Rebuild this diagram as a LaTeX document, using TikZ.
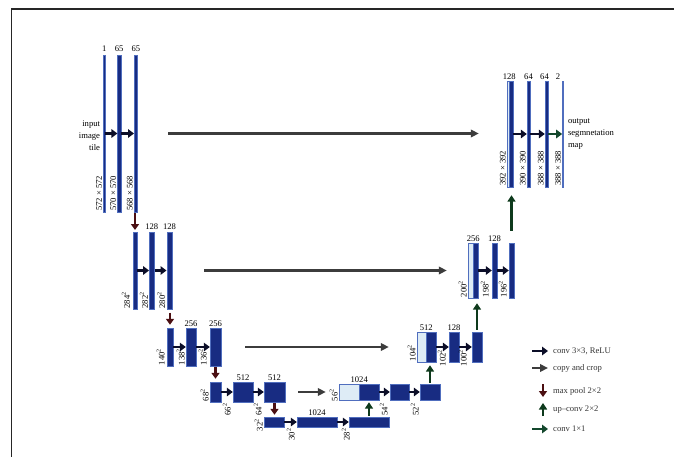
\documentclass[tikz,border=0pt]{standalone}
\usepackage{fontspec}
\setmainfont{Liberation Serif}
\usetikzlibrary{arrows.meta}
\definecolor{mapblue}{RGB}{24,44,130}
\definecolor{mapedge}{RGB}{80,110,190}
\definecolor{maplight}{RGB}{222,236,246}
\definecolor{convcol}{RGB}{12,14,40}
\definecolor{copycol}{RGB}{60,60,60}
\definecolor{poolcol}{RGB}{75,15,18}
\definecolor{upcol}{RGB}{14,58,28}
\definecolor{onecol}{RGB}{20,72,45}

\begin{document}
\begin{tikzpicture}[x=1pt, y=-1pt, font=\fontsize{8.6}{10}\selectfont,
    fmap/.style 2 args = {draw=mapedge, fill=mapblue, line width=.4pt, inner sep=0pt,
                          minimum width=#1pt, minimum height=#2pt},
    lmap/.style 2 args = {fmap={#1}{#2}, fill=maplight},
    num/.style = {above, inner sep=1.5pt},
    dimside/.style = {rotate=90, anchor=south west, inner sep=1pt},
    dimlow/.style = {rotate=90, anchor=east, inner sep=1pt},
    txt/.style = {inner sep=0pt, font=\fontsize{8.6}{11.7}\selectfont},
    key/.style = {anchor=west, inner sep=0pt, text=black!80},
    conv/.style = {-{Triangle[width=8.5pt,length=6pt]}, line width=2.6pt, convcol},
    copy/.style = {-{Triangle[width=7.5pt,length=8pt]}, line width=2.8pt, copycol},
    pool/.style = {-{Triangle[width=8pt,length=6pt]}, line width=2.8pt, poolcol},
    up/.style = {-{Triangle[width=8pt,length=6.5pt]}, line width=2.8pt, upcol},
    one/.style = {conv, onecol}]
\useasboundingbox (0,0) rectangle (674,457);
\draw[black!85, line width=1.3pt] (674,9) -- (11.5,9) -- (11.5,457);

% contracting path
\node[fmap={1.8}{157}] (e1a) at (104.3,133.5) {};
\node[fmap={3.2}{157}] (e1b) at (119.2,133.5) {};
\node[fmap={3.4}{157}] (e1c) at (135.9,133.5) {};
\node[fmap={3.4}{77.6}] (e2a) at (135,270.5) {};
\node[fmap={5}{77.6}] (e2b) at (151.8,270.5) {};
\node[fmap={5.6}{77.6}] (e2c) at (169.5,270.5) {};
\node[fmap={6}{38}] (e3a) at (170,347) {};
\node[fmap={10}{38}] (e3b) at (191,347) {};
\node[fmap={11}{38}] (e3c) at (215.5,347) {};
\node[fmap={11}{20}] (e4a) at (215.5,392) {};
\node[fmap={20}{20}] (e4b) at (243,392) {};
\node[fmap={21}{20}] (e4c) at (274.5,392) {};
\node[fmap={20}{10}] (b1) at (274,422) {};
\node[fmap={40}{10}] (b2) at (317,422) {};
\node[fmap={40}{10}] (b3) at (369,422) {};

% expansive path
\node[lmap={20}{16}] (d4l) at (349,392) {};
\node[fmap={20}{16}] (d4a) at (369,392) {};
\node[fmap={19}{16}] (d4b) at (399.5,392) {};
\node[fmap={20}{16}] (d4c) at (430,392) {};
\node[lmap={9}{30}] (d3l) at (421.5,347) {};
\node[fmap={10}{30}] (d3a) at (431,347) {};
\node[fmap={10}{30}] (d3b) at (454,347) {};
\node[fmap={10}{30}] (d3c) at (477,347) {};
\node[lmap={5}{55}] (d2l) at (470.5,270.5) {};
\node[fmap={5}{55}] (d2a) at (475.5,270.5) {};
\node[fmap={5}{55}] (d2b) at (494.5,270.5) {};
\node[fmap={5}{55}] (d2c) at (511.5,270.5) {};
\node[lmap={2}{106}] (d1l) at (508,134) {};
\node[fmap={4}{106}] (d1a) at (511,134) {};
\node[fmap={3}{106}] (d1b) at (528.5,134) {};
\node[fmap={3}{106}] (d1c) at (546.5,134) {};
\node[fmap={1.3}{106}] (d1d) at (563,134) {};

% channel numbers
\node[num] (n1a) at ([yshift=2pt]e1a.north) {1};
\node[num] (n1b) at ([yshift=2pt]e1b.north) {65};
\node[num] (n1c) at ([yshift=2pt]e1c.north) {65};
\node[num] (n2b) at (e2b.north) {128};
\node[num] (n2c) at (e2c.north) {128};
\node[num] (n3b) at (e3b.north) {256};
\node[num] (n3c) at (e3c.north) {256};
\node[num] (n4b) at (e4b.north) {512};
\node[num] (n4c) at (e4c.north) {512};
\node[num] (nb2) at (b2.north) {1024};
\node[num] (m4a) at (d4l.north east) {1024};
\node[num] (m3a) at (d3l.north east) {512};
\node[num] (m3b) at (d3b.north) {128};
\node[num] (m2a) at (d2l.north east) {256};
\node[num] (m2b) at (d2b.north) {128};
\node[num] (m1a) at (d1l.north east) {128};
\node[num] (m1b) at (d1b.north) {64};
\node[num] (m1c) at ([xshift=-2pt]d1c.north) {64};
\node[num] (m1d) at ([xshift=-5pt]d1d.north) {2};

% sizes
\node[dimside] (s1a) at (e1a.south west) {572 × 572};
\node[dimside] (s1b) at (e1b.south west) {570 × 570};
\node[dimside] (s1c) at (e1c.south west) {568 × 568};
\node[dimside] (s2a) at ([xshift=-2pt]e2a.south west) {284\textsuperscript{2}};
\node[dimside] (s2b) at (e2b.south west) {282\textsuperscript{2}};
\node[dimside] (s2c) at (e2c.south west) {280\textsuperscript{2}};
\node[dimside] (s3a) at ([xshift=-1pt]e3a.south west) {140\textsuperscript{2}};
\node[dimside] (s3b) at (e3b.south west) {138\textsuperscript{2}};
\node[dimside] (s3c) at ([xshift=-2pt]e3c.south west) {136\textsuperscript{2}};
\node[dimside] (s4a) at (e4a.south west) {68\textsuperscript{2}};
\node[dimlow] (s4b) at ([xshift=-6pt]e4b.south west) {66\textsuperscript{2}};
\node[dimlow] (s4c) at ([xshift=-6pt]e4c.south west) {64\textsuperscript{2}};
\node[dimside] (sb1) at ([yshift=-5pt]b1.south west) {32\textsuperscript{2}};
\node[dimlow] (sb2) at ([xshift=-6pt]b2.south west) {30\textsuperscript{2}};
\node[dimlow] (sb3) at ([xshift=-3pt]b3.south west) {28\textsuperscript{2}};
\node[dimside] (t4a) at ([yshift=-2pt]d4l.south west) {56\textsuperscript{2}};
\node[dimlow] (t4b) at ([xshift=-6pt,yshift=-2pt]d4b.south west) {54\textsuperscript{2}};
\node[dimlow] (t4c) at ([xshift=-5pt,yshift=-2pt]d4c.south west) {52\textsuperscript{2}};
\node[dimside] (t3a) at (d3l.south west) {104\textsuperscript{2}};
\node[dimlow, anchor=west] (t3b) at ([xshift=-7pt,yshift=-5pt]d3b.south west) {102\textsuperscript{2}};
\node[dimlow, anchor=west] (t3c) at ([xshift=-9pt,yshift=-5pt]d3c.south west) {100\textsuperscript{2}};
\node[dimside] (t2a) at (d2l.south west) {200\textsuperscript{2}};
\node[dimlow, anchor=west] (t2b) at ([xshift=-7pt]d2b.south west) {198\textsuperscript{2}};
\node[dimlow, anchor=west] (t2c) at ([xshift=-6pt]d2c.south west) {196\textsuperscript{2}};
\node[dimside] (t1a) at (d1l.south west) {392 × 392};
\node[dimside] (t1b) at (d1b.south west) {390 × 390};
\node[dimside] (t1c) at (d1c.south west) {388 × 388};
\node[dimside] (t1d) at (d1d.south west) {388 × 388};

\node[txt, anchor=east, align=right] (inp) at ([xshift=-3pt,yshift=-2pt]e1a.west) {input\\image\\tile};
\node[txt, anchor=west, align=left] (outp) at ([xshift=4pt]d1d.east) {output\\segmnetation\\map};

% conv 3x3
\draw[conv] (e1a) -- (e1b);
\draw[conv] (e1b) -- (e1c);
\draw[conv] (e2a) -- (e2b);
\draw[conv] (e2b) -- (e2c);
\draw[conv] (e3a) -- (e3b);
\draw[conv] (e3b) -- (e3c);
\draw[conv] (e4a) -- (e4b);
\draw[conv] (e4b) -- (e4c);
\draw[conv] (b1) -- (b2);
\draw[conv] (b2) -- (b3);
\draw[conv] (d4a) -- (d4b);
\draw[conv] (d4b) -- (d4c);
\draw[conv] (d3a) -- (d3b);
\draw[conv] (d3b) -- (d3c);
\draw[conv] (d2a) -- (d2b);
\draw[conv] (d2b) -- (d2c);
\draw[conv] (d1a) -- (d1b);
\draw[conv] (d1b) -- (d1c);
\draw[one] (d1c) -- (d1d);

% copy and crop
\draw[copy, shorten <=30.5pt, shorten >=28pt] (e1c.east) -- (e1c.east -| d1l.west);
\draw[copy, shorten <=31.7pt, shorten >=21pt] (e2c.east) -- (e2c.east -| d2l.west);
\draw[copy, shorten <=24pt, shorten >=28pt] (e3c.east) -- (e3c.east -| d3l.west);
\draw[copy, shorten <=13pt, shorten >=13pt] (e4c.east) -- (e4c.east -| d4l.west);

% max pool
\draw[pool, shorten <=1pt, shorten >=1.5pt] (e2a.north |- e1c.south) -- (e2a.north);
\draw[pool, shorten <=3pt, shorten >=3pt] (e3a.north |- e2c.south) -- (e3a.north);
\draw[pool, shorten <=1pt, shorten >=3pt] (e3c.south) -- (e4a.north);
\draw[pool, shorten <=1pt, shorten >=2pt] (e4c.south) -- (e4c.south |- b1.north);

% up-conv
\draw[up, shorten <=1pt, shorten >=2pt] (b3.north) -- (d4a.south);
\draw[up, shorten <=1pt, shorten >=3pt] (d4c.north) -- (d4c.north |- d3a.south);
\draw[up, shorten <=2pt, shorten >=5pt] (d3c.north) -- (d3c.north |- d2a.south);
\draw[up, shorten <=12pt, shorten >=8pt] (d2c.north) -- (d2c.north |- d1a.south);

% legend
\node[key] (k1) at (553,351) {conv 3×3, ReLU};
\node[key] (k2) at (553,368) {copy and crop};
\node[key] (k3) at (553,391) {max pool 2×2};
\node[key] (k4) at (553,410) {up–conv 2×2};
\node[key] (k5) at (553,429) {conv 1×1};
\coordinate (c1) at (532,351);
\coordinate (c2) at (532,368);
\coordinate (c3) at (543,384);
\coordinate (c3e) at (543,397);
\coordinate (c4) at (543,416);
\coordinate (c4e) at (543,403);
\coordinate (c5) at (532,429);
\draw[conv, shorten >=5pt] (c1) -- (k1.west);
\draw[copy, shorten >=5pt] (c2) -- (k2.west);
\draw[pool] (c3) -- (c3e);
\draw[up] (c4) -- (c4e);
\draw[one, shorten >=5pt] (c5) -- (k5.west);
\end{tikzpicture}
\end{document}
